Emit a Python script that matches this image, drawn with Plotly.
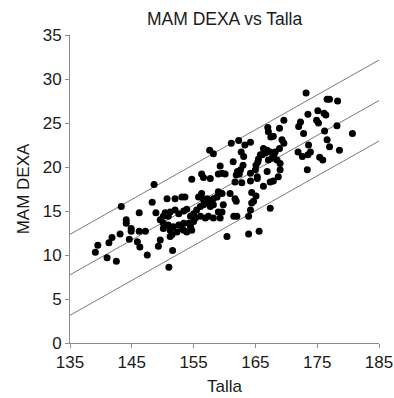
import plotly.graph_objects as go

# Height (Talla, cm) and DEXA muscle mass (MAM DEXA, kg) for each subject
talla = [
    139.1, 139.5, 141.0, 141.3, 141.8, 142.5, 143.1, 143.3,
    144.1, 144.1, 144.6, 144.9, 144.9, 145.9, 146.2, 146.2, 146.3, 147.2, 147.5,
    148.3, 148.6, 148.9, 149.3, 149.6, 150.7, 151.0, 151.2, 151.5, 151.6, 152.0, 153.1, 153.6,
    150.4, 150.1, 150.9, 151.2, 152.0, 152.6, 153.4, 153.9,
    149.6, 150.1, 150.9, 151.7, 152.6, 153.1, 153.4, 154.2, 154.5, 155.0, 155.5, 156.1,
    156.6, 157.2, 157.7, 158.2,
    150.1, 151.2, 152.3, 153.4, 153.9, 154.5, 154.7, 155.0, 155.3,
    156.1, 156.9, 157.4, 158.2, 159.3, 159.0, 159.6,
    154.7, 156.3, 156.6, 157.7, 159.0, 160.1,
    155.8, 156.3, 156.6, 157.2, 157.7, 158.2, 158.8, 159.0, 159.6, 159.8,
    157.6, 158.2, 159.3, 159.6, 160.4,
    160.9, 161.7, 161.9, 161.5, 162.0, 163.9, 164.2, 163.9, 165.6,
    164.4, 164.7, 164.4, 165.1,
    162.1, 162.4, 161.9, 161.7, 162.8, 164.2, 165.3,
    161.1, 162.3, 163.3, 164.2, 162.7, 163.1, 161.4, 163.0, 162.6, 165.8, 165.4, 165.1,
    165.0, 164.2, 165.3, 166.9, 166.3, 167.4, 167.9, 167.4, 169.0, 168.7,
    166.3, 166.9, 167.4, 166.6, 166.1, 165.5, 168.0, 168.2, 167.7, 167.1, 168.5, 169.0,
    167.0, 167.1, 167.5, 167.9, 169.3, 169.6, 168.9, 169.6, 168.9,
    173.2, 176.6, 177.0, 178.3, 173.5, 175.1, 176.1, 176.4, 172.3, 172.0, 174.9, 175.2,
    178.2, 172.8, 176.2, 180.7, 176.6, 177.0, 178.6, 173.6, 173.9, 173.5, 172.6, 171.9,
    175.4, 175.9, 173.4,
]
mam_dexa = [
    10.3, 11.1, 9.7, 11.4, 12.0, 9.3, 12.4, 15.5,
    14.0, 13.6, 11.8, 13.0, 12.7, 11.5, 14.8, 12.7, 10.9, 12.7, 10.0,
    16.0, 18.0, 14.8, 11.0, 11.7, 16.4, 8.6, 12.1, 12.3, 10.5, 16.4, 16.6, 16.6,
    14.8, 14.4, 14.4, 14.9, 15.1, 14.7, 15.0, 15.2,
    14.0, 13.6, 13.4, 13.2, 13.4, 13.0, 13.6, 13.6, 14.4, 14.7, 15.1, 15.5,
    15.7, 15.9, 15.5, 15.7,
    13.0, 12.8, 12.6, 12.8, 12.6, 13.2, 12.8, 13.8, 14.2,
    14.4, 14.2, 14.4, 14.2, 14.2, 14.9, 14.9,
    18.6, 19.2, 18.8, 18.7, 19.2, 19.2,
    16.6, 17.0, 16.3, 16.4, 16.1, 16.4, 16.6, 17.2, 17.0, 15.7,
    21.9, 21.5, 20.1, 19.3, 12.1,
    17.0, 16.4, 16.1, 14.4, 14.4, 14.4, 15.1, 12.4, 12.7,
    15.9, 16.1, 17.1, 16.7,
    19.5, 19.2, 19.1, 18.3, 18.2, 18.4, 18.7,
    22.7, 23.0, 22.5, 22.8, 21.7, 21.2, 20.6, 20.2, 19.7, 21.4, 20.6, 20.2,
    19.7, 19.3, 18.9, 19.5, 17.8, 18.3, 18.4, 15.3, 19.7, 18.9,
    22.1, 21.9, 21.7, 21.6, 21.4, 20.9, 21.4, 21.7, 21.0, 20.8, 20.8, 20.4,
    24.5, 24.0, 23.4, 23.5, 23.1, 22.7, 22.1, 25.3, 24.4,
    28.4, 27.7, 27.7, 27.5, 26.0, 26.4, 26.1, 25.9, 25.1, 24.6, 25.3, 25.0,
    24.7, 23.8, 24.1, 23.8, 23.1, 22.3, 21.9, 22.5, 21.7, 21.4, 21.2, 21.7,
    21.1, 20.8, 19.7,
]

# Fitted line and its upper/lower limits at the ends of the height range
line_x = [135, 185]
fit_y = [7.75, 27.55]
upper_y = [12.35, 32.15]
lower_y = [3.15, 22.95]

x_ticks = [135, 145, 155, 165, 175, 185]
y_ticks = [0, 5, 10, 15, 20, 25, 30, 35]

FONT = "Liberation Sans, Arial, sans-serif"
AXIS_GREY = "#8c8c8c"
LINE_GREY = "#7a7a7a"

fig = go.Figure()

for ys in (upper_y, fit_y, lower_y):
    fig.add_trace(go.Scatter(
        x=line_x, y=ys, mode="lines",
        line=dict(color=LINE_GREY, width=1),
        hoverinfo="skip", showlegend=False,
    ))

fig.add_trace(go.Scatter(
    x=talla, y=mam_dexa, mode="markers",
    marker=dict(color="black", size=7, line=dict(width=0)),
    showlegend=False,
))

fig.update_layout(
    width=394, height=398,
    margin=dict(l=70, r=15, t=35, b=55),
    paper_bgcolor="white", plot_bgcolor="white",
    font=dict(family=FONT, size=17, color="#1a1a1a"),
    title=dict(text="MAM DEXA vs Talla", x=0.57, xanchor="center",
               y=0.952, yanchor="middle", font=dict(size=17.5)),
    xaxis=dict(
        range=[135, 185], tickvals=x_ticks, ticktext=[str(v) for v in x_ticks],
        showgrid=False, zeroline=False, automargin=False,
        showline=True, linecolor=AXIS_GREY, linewidth=1,
        ticks="outside", ticklen=4, tickcolor=AXIS_GREY,
        tickfont=dict(size=17),
        title=dict(text="Talla", font=dict(size=17), standoff=8),
    ),
    yaxis=dict(
        range=[0, 35], tickvals=y_ticks, ticktext=[str(v) for v in y_ticks],
        showgrid=False, zeroline=False, automargin=False,
        showline=True, linecolor=AXIS_GREY, linewidth=1,
        ticks="outside", ticklen=4, tickcolor=AXIS_GREY,
        tickfont=dict(size=17),
        title=dict(text="MAM DEXA", font=dict(size=17), standoff=8),
    ),
)

fig.write_html("out.html")
